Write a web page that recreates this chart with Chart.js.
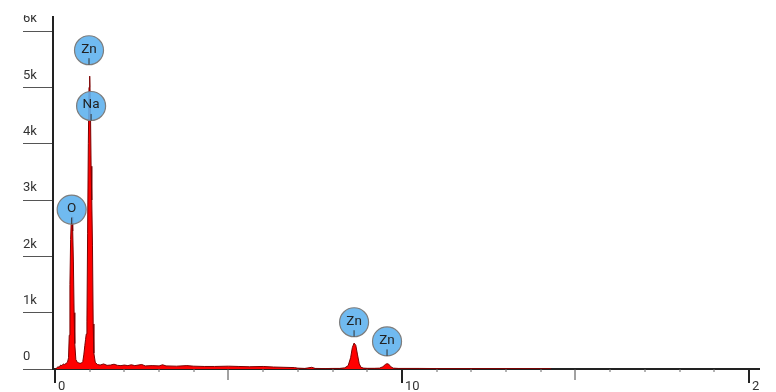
<!DOCTYPE html>
<html>
<head>
<meta charset="utf-8">
<script src="https://cdn.jsdelivr.net/npm/chart.js@4/dist/chart.umd.min.js"></script>
<style>
  html, body { margin: 0; padding: 0; background: #fff; }
  #spectrum { display: block; margin-top: 15px; }
</style>
</head>
<body>
<canvas id="spectrum" width="760" height="377"></canvas>
<script>
// spectrum, keV vs counts
const energy = [0.00,0.04,0.08,0.12,0.16,0.20,0.24,0.28,0.32,0.36,
  0.39,0.41,0.43,0.45,0.47,0.49,0.51,0.53,0.55,0.57,
  0.60,0.64,0.68,0.72,0.76,0.80,0.83,0.86,0.88,0.90,
  0.92,0.94,0.96,0.98,1.00,1.02,1.04,1.06,1.08,1.10,
  1.12,1.16,1.22,1.30,1.40,1.50,1.60,1.70,1.80,1.90,
  2.00,2.10,2.20,2.30,2.50,2.60,2.80,3.00,3.10,3.20,
  3.50,3.80,4.00,4.30,4.60,5.00,5.30,5.60,6.00,6.30,
  6.60,6.90,7.00,7.20,7.40,7.50,7.80,8.00,8.20,8.35,
  8.45,8.52,8.57,8.62,8.67,8.72,8.77,8.82,8.90,9.00,
  9.20,9.35,9.45,9.52,9.57,9.62,9.68,9.75,9.90,10.5,
  11.0,12.0,13.0,14.0,14.3];
const counts = [0,10,40,30,70,60,90,80,100,120,
  200,600,1500,2300,2650,2700,2450,1900,1000,450,
  170,120,110,100,105,130,250,420,520,620,
  850,2400,4000,5000,5200,4700,3600,3000,2200,800,
  280,120,80,70,90,65,70,85,65,60,
  70,60,75,60,80,55,60,55,75,55,
  50,60,50,45,45,50,45,40,45,35,
  30,25,15,10,30,10,8,10,10,20,
  60,200,380,460,420,250,90,30,15,12,
  12,15,40,80,95,85,40,15,10,10,
  8,8,8,6,6];

// element markers
const markerNames = ["Zn", "Na", "O", "Zn", "Zn"];
const markerEnergy = [0.98, 1.04, 0.48, 8.62, 9.57];
const markerCounts = [5660, 4670, 2830, 830, 490];

const yTickValues = [0, 1000, 2000, 3000, 4000, 5000, 6000];
const xLabels = [0, 10, 20];

const markerPlugin = {
  id: "markers",
  afterDatasetsDraw(chart) {
    const ctx = chart.ctx;
    const xs = chart.scales.x;
    const ys = chart.scales.y;
    ctx.save();
    markerNames.forEach((name, i) => {
      const cx = xs.getPixelForValue(markerEnergy[i]);
      const cy = ys.getPixelForValue(markerCounts[i]);
      const r = 14.5;
      ctx.beginPath();
      ctx.arc(cx, cy, r, 0, Math.PI * 2);
      ctx.fillStyle = "rgba(96, 178, 238, 0.9)";
      ctx.fill();
      ctx.lineWidth = 1.2;
      ctx.strokeStyle = "#7d7d7d";
      ctx.stroke();
      ctx.beginPath();
      ctx.moveTo(cx, cy + 8);
      ctx.lineTo(cx, cy + r);
      ctx.lineWidth = 1;
      ctx.strokeStyle = "#333";
      ctx.stroke();
      ctx.fillStyle = "#222";
      ctx.font = "13.5px Roboto";
      ctx.textAlign = "center";
      ctx.textBaseline = "middle";
      ctx.fillText(name, cx, cy - 1);
    });
    ctx.restore();
  },
};

// x tick marks: long at 0/10/20, medium at 5/15, short otherwise
const xTickPlugin = {
  id: "xticks",
  afterDraw(chart) {
    const ctx = chart.ctx;
    const xs = chart.scales.x;
    ctx.save();
    xs.ticks.forEach((t) => {
      const px = Math.round(xs.getPixelForValue(t.value));
      let len = 3, w = 1, col = "#666";
      if (t.value % 10 === 0) { len = 14; w = 2; col = "#222"; }
      else if (t.value % 5 === 0) { len = 11; w = 1; col = "#444"; }
      ctx.beginPath();
      ctx.moveTo(px, xs.top);
      ctx.lineTo(px, xs.top + len);
      ctx.lineWidth = w;
      ctx.strokeStyle = col;
      ctx.stroke();
    });
    ctx.restore();
  },
};

new Chart(document.getElementById("spectrum"), {
  type: "line",
  data: {
    datasets: [
      {
        data: energy.map((e, i) => ({ x: e, y: counts[i] })),
        borderColor: "#7a0000",
        backgroundColor: "#ff0000",
        borderWidth: 1,
        tension: 0,
        pointRadius: 0,
        fill: "origin",
      },
    ],
  },
  options: {
    responsive: false,
    animation: false,
    devicePixelRatio: 1,
    layout: { padding: { left: 23, top: 2, right: 0, bottom: 0 } },
    plugins: {
      legend: { display: false },
      tooltip: { enabled: false },
    },
    scales: {
      x: {
        type: "linear",
        min: -0.058,
        max: 20.32,
        grid: { display: false },
        border: { display: true, color: "#222", width: 2 },
        ticks: {
          stepSize: 1,
          includeBounds: false,
          autoSkip: false,
          maxRotation: 0,
          align: "start",
          labelOffset: 3,
          padding: 2,
          color: "#333",
          font: { family: "Roboto", size: 13 },
          callback: (v) => (xLabels.includes(v) ? String(v) : ""),
        },
        afterFit: (s) => {
          s.height = 23;
          s.paddingLeft = 0;
          s.paddingRight = 0;
        },
      },
      y: {
        type: "linear",
        position: "left",
        min: 0,
        max: 6250,
        grid: {
          display: true,
          drawOnChartArea: false,
          drawTicks: true,
          tickLength: 30,
          tickColor: "#555",
          tickWidth: 1,
        },
        border: { display: true, color: "#222", width: 2 },
        ticks: {
          autoSkip: false,
          crossAlign: "far",
          labelOffset: -12,
          color: "#333",
          font: { family: "Roboto", size: 13 },
          callback: (v) => (v === 0 ? "0" : v / 1000 + "k"),
        },
        afterBuildTicks: (s) => {
          s.ticks = yTickValues.map((v) => ({ value: v }));
        },
        afterFit: (s) => {
          s.width = 30;
          s.paddingTop = 0;
          s.paddingBottom = 0;
        },
      },
    },
  },
  plugins: [markerPlugin, xTickPlugin],
});
</script>
</body>
</html>
